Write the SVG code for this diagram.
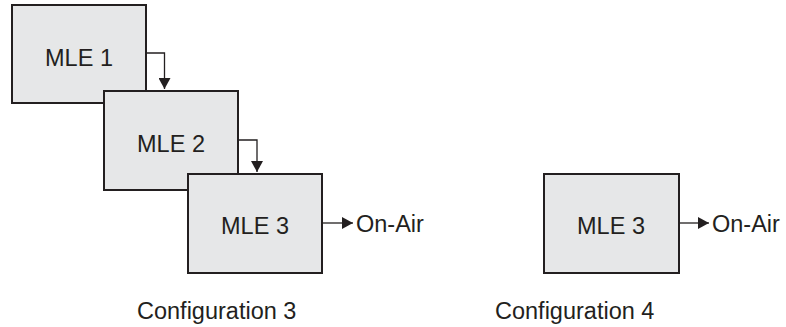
<svg xmlns="http://www.w3.org/2000/svg" width="786" height="327" viewBox="0 0 786 327">
<style>
.box{fill:#e6e7e8;stroke:#231f20;stroke-width:2}
.lbl{font-family:"Liberation Sans",Arial,sans-serif;font-size:23.5px;fill:#231f20}
.mid{text-anchor:middle}
.con{fill:none;stroke:#231f20;stroke-width:1.3}
</style>
<defs>
<marker id="ah" markerWidth="13" markerHeight="12" refX="11" refY="6" orient="auto" markerUnits="userSpaceOnUse">
<path d="M0,0 L11,6 L0,12 Z" fill="#231f20"/>
</marker>
</defs>
<rect width="786" height="327" fill="#ffffff"/>
<g id="mle1"><rect class="box" x="12" y="5" width="134" height="98"/><text class="lbl mid" x="79" y="65.5">MLE 1</text></g>
<g id="mle2"><rect class="box" x="104" y="91" width="134" height="99"/><text class="lbl mid" x="171" y="152">MLE 2</text></g>
<g id="mle3a"><rect class="box" x="188" y="174" width="134" height="99"/><text class="lbl mid" x="255" y="234">MLE 3</text></g>
<g id="mle3b"><rect class="box" x="544" y="174" width="135" height="99"/><text class="lbl mid" x="611" y="234">MLE 3</text></g>
<g id="connectors">
<path class="con" d="M147,53 H164.5 V89" marker-end="url(#ah)"/>
<path class="con" d="M239,140 H257 V172" marker-end="url(#ah)"/>
<path class="con" d="M323,223 H353" marker-end="url(#ah)"/>
<path class="con" d="M680,223 H709" marker-end="url(#ah)"/>
</g>
<text class="lbl" x="356" y="232">On-Air</text>
<text class="lbl" x="712" y="232">On-Air</text>
<text class="lbl" x="137" y="318.5">Configuration 3</text>
<text class="lbl" x="495" y="318.5">Configuration 4</text>
</svg>
